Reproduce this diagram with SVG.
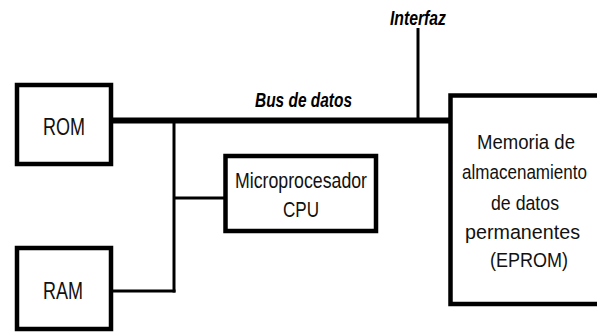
<svg xmlns="http://www.w3.org/2000/svg" width="597" height="332" viewBox="0 0 597 332">
<style>
.box{fill:#fff;stroke:#000;stroke-width:4.5}
.t{font-family:"Liberation Sans",Arial,sans-serif;fill:#111;text-anchor:middle}
.ti{font-family:"Liberation Sans",Arial,sans-serif;font-weight:bold;font-style:italic;fill:#000;text-anchor:middle}
.thin{stroke:#000;stroke-width:3;fill:none}
.bus{stroke:#000;stroke-width:6;fill:none}
</style>
<rect width="597" height="332" fill="#fff"/>
<g id="connectors">
<line class="bus" x1="112" y1="120.5" x2="451" y2="120.5"/>
<line class="thin" x1="174" y1="120" x2="174" y2="292.5"/>
<line class="thin" x1="112" y1="291" x2="175.5" y2="291"/>
<line class="thin" x1="174" y1="198" x2="226" y2="198"/>
<line class="thin" x1="418" y1="28" x2="418" y2="120"/>
</g>
<g id="label-interfaz">
<text class="ti" x="418" y="25" font-size="21" textLength="56" lengthAdjust="spacingAndGlyphs">Interfaz</text>
</g>
<g id="label-bus">
<text class="ti" x="303.5" y="107" font-size="20.5" textLength="97" lengthAdjust="spacingAndGlyphs">Bus de datos</text>
</g>
<g id="rom">
<rect class="box" x="17" y="85" width="94" height="79"/>
<text class="t" x="64" y="135" font-size="23.5" textLength="42" lengthAdjust="spacingAndGlyphs">ROM</text>
</g>
<g id="ram">
<rect class="box" x="17" y="248" width="94" height="81"/>
<text class="t" x="63" y="299" font-size="23.5" textLength="40" lengthAdjust="spacingAndGlyphs">RAM</text>
</g>
<g id="cpu">
<rect class="box" x="225.5" y="156" width="150.5" height="75"/>
<text class="t" x="301" y="187.5" font-size="21.5" textLength="132" lengthAdjust="spacingAndGlyphs">Microprocesador</text>
<text class="t" x="301" y="217" font-size="21.5" textLength="36" lengthAdjust="spacingAndGlyphs">CPU</text>
</g>
<g id="eprom">
<rect class="box" x="450.5" y="95.5" width="160" height="208.5" stroke-width="5"/>
<text class="t" x="526" y="148.5" font-size="20.5" textLength="98" lengthAdjust="spacingAndGlyphs">Memoria de</text>
<text class="t" x="524.5" y="179" font-size="20.5" textLength="125" lengthAdjust="spacingAndGlyphs">almacenamiento</text>
<text class="t" x="525" y="210" font-size="20.5" textLength="68" lengthAdjust="spacingAndGlyphs">de datos</text>
<text class="t" x="522.5" y="239" font-size="20.5" textLength="115" lengthAdjust="spacingAndGlyphs">permanentes</text>
<text class="t" x="529" y="267" font-size="20.5" textLength="78" lengthAdjust="spacingAndGlyphs">(EPROM)</text>
</g>
</svg>
